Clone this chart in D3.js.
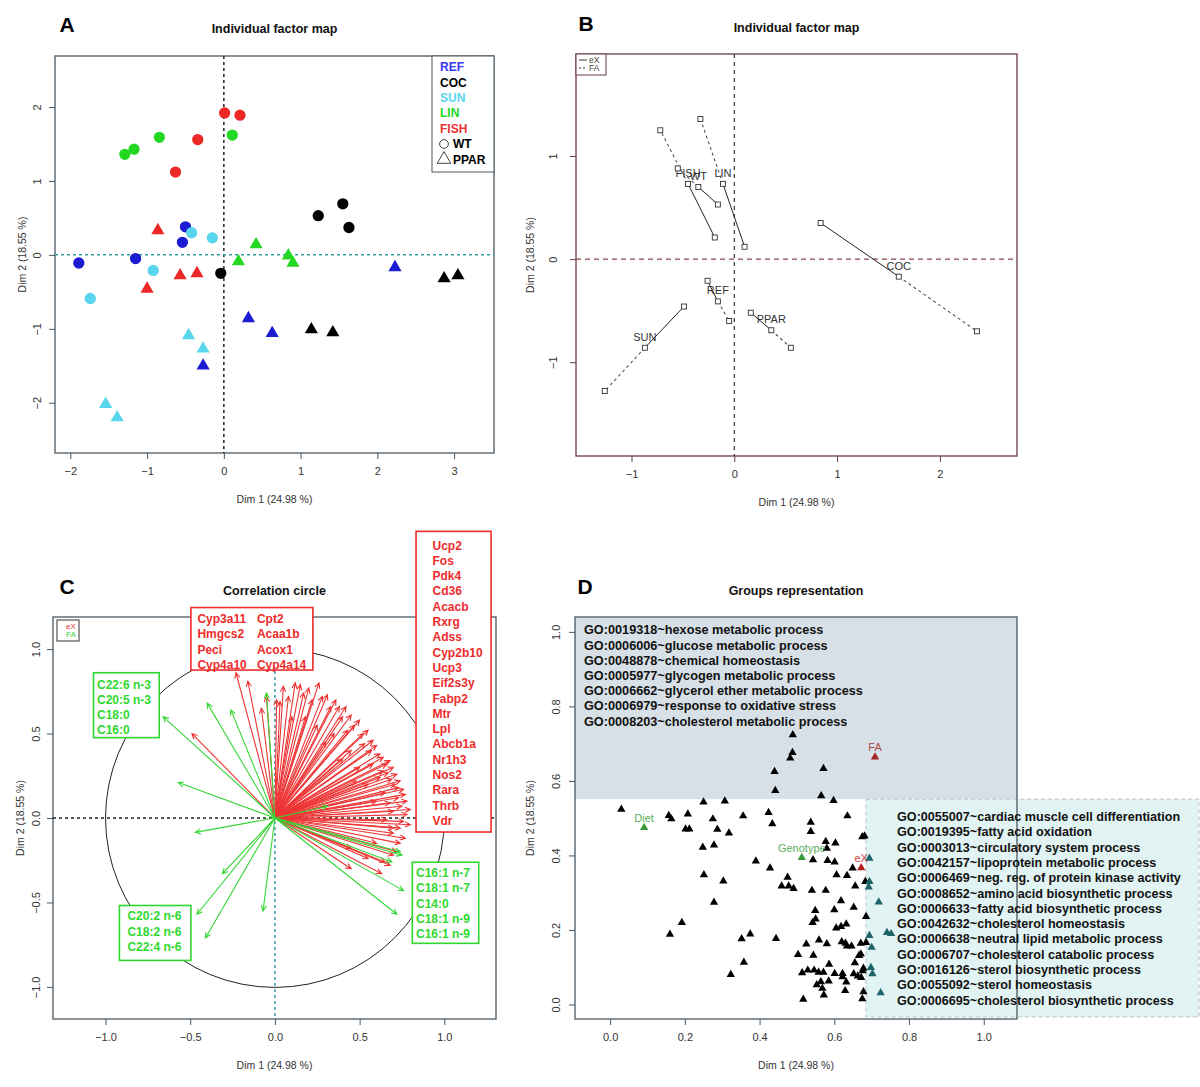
<!DOCTYPE html>
<html>
<head>
<meta charset="utf-8">
<script src="https://cdn.jsdelivr.net/npm/d3@7"></script>
<style>
body { margin: 0; background: #fff; }
text { font-family: "Liberation Sans", Arial, sans-serif; }
</style>
</head>
<body>
<svg id="fig" width="1200" height="1087"></svg>
<script>
// ---------- data: panel A (individual factor map)
var dietNames = ["REF", "COC", "SUN", "LIN", "FISH"];
var genoNames = ["WT", "PPAR"];
// diet, genotype, dim1, dim2
var indivA = [
  ["LIN","WT",-1.29,1.36], ["LIN","WT",-1.17,1.43], ["LIN","WT",-0.84,1.59], ["LIN","WT",0.11,1.62],
  ["FISH","WT",0.01,1.92], ["FISH","WT",0.21,1.89], ["FISH","WT",-0.34,1.56], ["FISH","WT",-0.63,1.12],
  ["COC","WT",1.23,0.53], ["COC","WT",1.55,0.69], ["COC","WT",1.63,0.37], ["COC","WT",-0.04,-0.25],
  ["REF","WT",-0.50,0.38], ["REF","WT",-0.54,0.17], ["REF","WT",-1.89,-0.11], ["REF","WT",-1.15,-0.05],
  ["SUN","WT",-0.42,0.30], ["SUN","WT",-0.15,0.23], ["SUN","WT",-0.92,-0.21], ["SUN","WT",-1.74,-0.59],
  ["FISH","PPAR",-0.86,0.33], ["FISH","PPAR",-0.57,-0.28], ["FISH","PPAR",-0.35,-0.25], ["FISH","PPAR",-1.00,-0.46],
  ["LIN","PPAR",0.42,0.14], ["LIN","PPAR",0.19,-0.09], ["LIN","PPAR",0.84,-0.01], ["LIN","PPAR",0.90,-0.11],
  ["REF","PPAR",2.23,-0.17], ["REF","PPAR",0.32,-0.86], ["REF","PPAR",0.63,-1.06], ["REF","PPAR",-0.27,-1.50],
  ["COC","PPAR",2.87,-0.32], ["COC","PPAR",3.05,-0.28], ["COC","PPAR",1.14,-1.01], ["COC","PPAR",1.42,-1.05],
  ["SUN","PPAR",-0.46,-1.09], ["SUN","PPAR",-0.27,-1.27], ["SUN","PPAR",-1.54,-2.02], ["SUN","PPAR",-1.39,-2.20]
];

// ---------- data: panel B (partial points)
var partialNames = ["REF","COC","SUN","LIN","FISH","WT","PPAR"];
var partialMean = [[-0.16,-0.41],[1.60,-0.17],[-0.87,-0.86],[-0.11,0.73],[-0.45,0.73],[-0.35,0.70],[0.36,-0.69]];
var partialEX   = [[-0.26,-0.21],[0.84,0.35],[-0.49,-0.46],[0.10,0.12],[-0.19,0.21],[-0.16,0.53],[0.16,-0.52]];
var partialFA   = [[-0.05,-0.60],[2.36,-0.70],[-1.26,-1.28],[-0.33,1.36],[-0.72,1.25],[-0.55,0.88],[0.55,-0.86]];

// ---------- data: panel C (correlation circle)
var eXVars = [
  [-0.23,0.86],[-0.16,0.81],[-0.49,0.50],[-0.05,0.72],[-0.08,0.65],
  [0.01,0.70],[0.03,0.69],[0.05,0.78],[0.08,0.72],[0.12,0.80],[0.15,0.79],[0.17,0.74],[0.20,0.77],
  [0.22,0.70],[0.26,0.80],[0.28,0.72],[0.31,0.73],[0.33,0.66],[0.36,0.70],[0.38,0.66],[0.40,0.60],
  [0.42,0.66],[0.45,0.61],[0.47,0.55],[0.50,0.58],[0.52,0.50],[0.55,0.52],[0.58,0.46],[0.57,0.40],
  [0.60,0.43],[0.62,0.38],[0.64,0.36],[0.66,0.32],[0.68,0.34],[0.70,0.30],[0.67,0.27],[0.72,0.26],
  [0.74,0.22],[0.71,0.20],[0.76,0.17],[0.77,0.14],[0.73,0.12],[0.78,0.10],[0.75,0.07],[0.80,0.05],
  [0.70,0.04],[0.78,0.02],[0.76,-0.02],[0.66,-0.01],[0.80,-0.04],[0.74,-0.06],[0.70,-0.09],[0.77,-0.12],
  [0.60,-0.15],[0.70,-0.22],[0.65,-0.26],[0.55,-0.24],[0.72,-0.20],[0.45,-0.18],[0.50,0.30],[0.45,0.40],
  [0.40,0.35],[0.55,0.20],[0.60,0.10],[0.35,0.50],[0.30,0.45],[0.62,0.24],[0.48,0.22],[0.65,0.15],
  [0.25,0.55],[0.18,0.60],[0.10,0.60],[0.74,-0.15],[0.68,-0.28],[0.63,-0.33],[0.45,-0.30],[0.70,-0.06],
  [0.68,0.09],[0.73,0.18],[0.53,0.44],[0.43,0.52],[0.64,0.28],[0.69,0.23],[0.58,0.32]
];
var faVars = [
  [-0.66,0.60],[-0.40,0.68],[-0.26,0.64],[-0.05,0.74],[-0.57,0.21],[0.31,0.07],
  [-0.47,-0.085],[-0.31,-0.33],[-0.46,-0.57],[-0.41,-0.71],[-0.07,-0.55],
  [0.75,-0.22],[0.74,-0.20],[0.69,-0.26],[0.76,-0.43],[0.72,-0.57]
];
var eXTopLeft  = ["Cyp3a11","Hmgcs2","Peci","Cyp4a10"];
var eXTopRight = ["Cpt2","Acaa1b","Acox1","Cyp4a14"];
var eXRight = ["Ucp2","Fos","Pdk4","Cd36","Acacb","Rxrg","Adss","Cyp2b10","Ucp3","Eif2s3y",
               "Fabp2","Mtr","Lpl","Abcb1a","Nr1h3","Nos2","Rara","Thrb","Vdr"];
var faTopLeft = ["C22:6 n-3","C20:5 n-3","C18:0","C16:0"];
var faBottomLeft = ["C20:2 n-6","C18:2 n-6","C22:4 n-6"];
var faRight = ["C16:1 n-7","C18:1 n-7","C14:0","C18:1 n-9","C16:1 n-9"];

// ---------- data: panel D (groups representation)
var goGroups = [
  [0.489,0.724],[0.488,0.676],[0.482,0.661],[0.440,0.625],[0.571,0.633],
  [0.442,0.574],[0.565,0.560],[0.598,0.547],[0.030,0.524],[0.250,0.543],[0.307,0.546],
  [0.157,0.507],[0.164,0.498],[0.208,0.511],[0.356,0.506],[0.424,0.515],[0.275,0.498],[0.434,0.485],
  [0.635,0.506],[0.537,0.489],[0.202,0.471],[0.212,0.471],[0.287,0.470],[0.318,0.460],[0.537,0.464],
  [0.675,0.450],[0.681,0.452],[0.248,0.422],[0.278,0.428],[0.577,0.437],[0.603,0.433],[0.580,0.419],
  [0.390,0.385],[0.543,0.388],[0.582,0.386],[0.601,0.382],[0.428,0.366],[0.649,0.366],[0.694,0.392],
  [0.251,0.348],[0.475,0.341],[0.606,0.348],[0.634,0.346],[0.303,0.331],[0.459,0.318],[0.478,0.318],
  [0.491,0.311],[0.540,0.306],[0.577,0.306],[0.656,0.318],[0.683,0.330],[0.694,0.330],[0.692,0.315],
  [0.618,0.278],[0.278,0.274],[0.719,0.275],[0.652,0.261],[0.549,0.252],[0.600,0.254],[0.685,0.236],
  [0.192,0.220],[0.542,0.220],[0.550,0.229],[0.605,0.205],[0.618,0.209],[0.632,0.216],[0.160,0.188],
  [0.352,0.176],[0.375,0.189],[0.444,0.177],[0.525,0.162],[0.559,0.173],[0.580,0.163],[0.620,0.168],
  [0.630,0.164],[0.634,0.157],[0.646,0.157],[0.671,0.164],[0.685,0.166],[0.694,0.185],[0.741,0.193],
  [0.752,0.190],[0.700,0.153],[0.503,0.134],[0.544,0.132],[0.666,0.131],[0.671,0.135],[0.358,0.113],
  [0.655,0.112],[0.586,0.108],[0.323,0.080],[0.514,0.085],[0.529,0.092],[0.546,0.092],[0.558,0.086],
  [0.571,0.086],[0.601,0.083],[0.622,0.083],[0.622,0.074],[0.652,0.082],[0.663,0.076],[0.672,0.072],
  [0.676,0.090],[0.678,0.097],[0.698,0.099],[0.702,0.082],[0.564,0.061],[0.553,0.053],[0.585,0.063],
  [0.632,0.060],[0.568,0.043],[0.629,0.037],[0.572,0.025],[0.678,0.034],[0.517,0.014],[0.675,0.015],
  [0.724,0.031]
];
var suppNames = ["Diet","Genotype","eX","FA"];
var suppPos = [[0.091,0.475],[0.513,0.394],[0.672,0.367],[0.709,0.664]];
var clusterTopGO = [
  "GO:0019318~hexose metabolic process","GO:0006006~glucose metabolic process",
  "GO:0048878~chemical homeostasis","GO:0005977~glycogen metabolic process",
  "GO:0006662~glycerol ether metabolic process","GO:0006979~response to oxidative stress",
  "GO:0008203~cholesterol metabolic process"
];
var clusterRightGO = [
  "GO:0055007~cardiac muscle cell differentiation","GO:0019395~fatty acid oxidation",
  "GO:0003013~circulatory system process","GO:0042157~lipoprotein metabolic process",
  "GO:0006469~neg. reg. of protein kinase activity","GO:0008652~amino acid biosynthetic process",
  "GO:0006633~fatty acid biosynthetic process","GO:0042632~cholesterol homeostasis",
  "GO:0006638~neutral lipid metabolic process","GO:0006707~cholesterol catabolic process",
  "GO:0016126~sterol biosynthetic process","GO:0055092~sterol homeostasis",
  "GO:0006695~cholesterol biosynthetic process"
];
var topClusterMinY = 0.551;   // grey cluster: dim2 above this
var rightClusterMinX = 0.685; // cyan cluster: dim1 right of this

// ---------- drawing helpers
var svg = d3.select("#fig");
var minus = function(s) { return String(s).replace("-", "\u2212"); };

var makePanel = function(o) {
  var g = svg.append("g");
  var x = d3.scaleLinear().domain(o.xDom).range([o.left, o.right]);
  var y = d3.scaleLinear().domain(o.yDom).range([o.bottom, o.top]);
  return {g: g, x: x, y: y, o: o};
};

var drawFrame = function(p) {
  var o = p.o;
  var xa = p.g.append("g").attr("transform", "translate(0," + o.bottom + ")")
    .call(d3.axisBottom(p.x).tickValues(o.xTicks).tickFormat(o.fmt).tickSize(6).tickPadding(8));
  var ya = p.g.append("g").attr("transform", "translate(" + o.left + ",0)")
    .call(d3.axisLeft(p.y).tickValues(o.yTicks).tickFormat(o.fmt).tickSize(6));
  ya.selectAll(".tick text").attr("x", 0).attr("dy", null)
    .attr("text-anchor", "middle").attr("transform", "translate(" + (-o.yTickOff) + ",0) rotate(-90)");
  [xa, ya].forEach(function(a) {
    a.select(".domain").remove();
    a.selectAll("line").attr("stroke", o.boxColor);
    a.selectAll("text").attr("font-size", 11).attr("fill", "#333")
      .style("font-family", '"Liberation Sans", Arial, sans-serif');
  });
  p.g.append("rect").attr("x", o.left).attr("y", o.top)
    .attr("width", o.right - o.left).attr("height", o.bottom - o.top)
    .attr("fill", "none").attr("stroke", o.boxColor).attr("stroke-width", 1.3);
  var cx = (o.left + o.right) / 2, cy = (o.top + o.bottom) / 2;
  p.g.append("text").attr("x", cx).attr("y", o.bottom + 50).attr("text-anchor", "middle")
    .attr("font-size", 10.5).attr("fill", "#333").text("Dim 1 (24.98 %)");
  p.g.append("text").attr("transform", "translate(" + (o.left - o.yLabOff) + "," + cy + ") rotate(-90)")
    .attr("text-anchor", "middle").attr("font-size", 10.5).attr("fill", "#333").text("Dim 2 (18.55 %)");
  svg.append("text").attr("x", cx).attr("y", o.titleY).attr("text-anchor", "middle")
    .attr("font-size", 12.5).attr("font-weight", "bold").attr("fill", "#111").text(o.title);
  svg.append("text").attr("x", o.letterX).attr("y", o.titleY - 1).attr("text-anchor", "middle")
    .attr("font-size", 21).attr("font-weight", "bold").attr("fill", "#000").text(o.letter);
};

var dashed = function(p, vertColor, horColor, dash) {
  p.g.append("line").attr("x1", p.x(0)).attr("x2", p.x(0)).attr("y1", p.o.top).attr("y2", p.o.bottom)
    .attr("stroke", vertColor).attr("stroke-width", 1.5).attr("stroke-dasharray", dash);
  p.g.append("line").attr("x1", p.o.left).attr("x2", p.o.right).attr("y1", p.y(0)).attr("y2", p.y(0))
    .attr("stroke", horColor).attr("stroke-width", 1.5).attr("stroke-dasharray", dash);
};

// ---------- panel A
var dietColor = d3.scaleOrdinal().domain(dietNames)
  .range(["#1b1bd2", "#000000", "#5ad5ee", "#23d823", "#ee2727"]);
var dietText = d3.scaleOrdinal().domain(dietNames)
  .range(["#3535f5", "#000000", "#5ad5ee", "#23d823", "#ee3333"]);
var pA = makePanel({left: 55, right: 494, top: 56, bottom: 453, xDom: [-2.2, 3.52], yDom: [-2.68, 2.69],
  xTicks: [-2, -1, 0, 1, 2, 3], yTicks: [-2, -1, 0, 1, 2], fmt: minus, boxColor: "#4a5862",
  yTickOff: 14, yLabOff: 29,
  title: "Individual factor map", titleY: 33, letter: "A", letterX: 67});
drawFrame(pA);
dashed(pA, "#222", "#2f9c9c", "3,3");
var triA = d3.symbol().type(d3.symbolTriangle).size(75);
pA.g.selectAll(".ind").data(indivA).enter().append("path").attr("class", "ind")
  .attr("d", function(d) { return d[1] == "WT" ? d3.symbol().type(d3.symbolCircle).size(100)() : triA(); })
  .attr("transform", function(d) { return "translate(" + pA.x(d[2]) + "," + pA.y(d[3]) + ")"; })
  .attr("fill", function(d) { return dietColor(d[0]); });
// legend
var legA = pA.g.append("g").attr("transform", "translate(" + (pA.o.right - 62) + "," + pA.o.top + ")");
legA.append("rect").attr("width", 62).attr("height", 116).attr("fill", "#fff").attr("stroke", "#4a5862");
legA.selectAll(".dl").data(dietNames).enter().append("text")
  .attr("x", 8).attr("y", function(d, i) { return 11 + i * 15.4; }).attr("dy", "0.35em")
  .attr("font-size", 12).attr("font-weight", "bold").attr("fill", function(d) { return dietText(d); })
  .text(function(d) { return d; });
legA.selectAll(".gl").data(genoNames).enter().append("text")
  .attr("x", 21).attr("y", function(d, i) { return 11 + (i + 5) * 15.4; }).attr("dy", "0.35em")
  .attr("font-size", 12).attr("font-weight", "bold").attr("fill", "#000").text(function(d) { return d; });
legA.selectAll(".gs").data(genoNames).enter().append("path")
  .attr("d", function(d) { return d == "WT" ? d3.symbol().type(d3.symbolCircle).size(60)() : d3.symbol().type(d3.symbolTriangle).size(80)(); })
  .attr("transform", function(d, i) { return "translate(12," + (11 + (i + 5) * 15.4) + ")"; })
  .attr("fill", "none").attr("stroke", "#444").attr("stroke-width", 1);

// ---------- panel B
var pB = makePanel({left: 576, right: 1017, top: 54, bottom: 456, xDom: [-1.54, 2.75], yDom: [-1.91, 1.99],
  xTicks: [-1, 0, 1, 2], yTicks: [-1, 0, 1], fmt: minus, boxColor: "#6a3c40",
  yTickOff: 19, yLabOff: 42,
  title: "Individual factor map", titleY: 32, letter: "B", letterX: 586});
drawFrame(pB);
pB.g.append("line").attr("x1", pB.x(0)).attr("x2", pB.x(0)).attr("y1", pB.o.top).attr("y2", pB.o.bottom)
  .attr("stroke", "#333").attr("stroke-width", 1.2).attr("stroke-dasharray", "4,4");
pB.g.append("line").attr("x1", pB.o.left).attr("x2", pB.o.right).attr("y1", pB.y(0)).attr("y2", pB.y(0))
  .attr("stroke", "#8a4848").attr("stroke-width", 1.2).attr("stroke-dasharray", "5,4");
partialNames.forEach(function(name, i) {
  var m = partialMean[i], e = partialEX[i], f = partialFA[i];
  pB.g.append("line").attr("x1", pB.x(m[0])).attr("y1", pB.y(m[1])).attr("x2", pB.x(e[0])).attr("y2", pB.y(e[1]))
    .attr("stroke", "#222").attr("stroke-width", 1);
  pB.g.append("line").attr("x1", pB.x(m[0])).attr("y1", pB.y(m[1])).attr("x2", pB.x(f[0])).attr("y2", pB.y(f[1]))
    .attr("stroke", "#555").attr("stroke-width", 1.1).attr("stroke-dasharray", "3,3");
  [m, e, f].forEach(function(pt) {
    pB.g.append("rect").attr("x", pB.x(pt[0]) - 2.5).attr("y", pB.y(pt[1]) - 2.5)
      .attr("width", 5).attr("height", 5).attr("fill", "#fff").attr("stroke", "#333").attr("stroke-width", 0.9);
  });
  pB.g.append("text").attr("x", pB.x(m[0])).attr("y", pB.y(m[1]) - 7).attr("text-anchor", "middle")
    .attr("font-size", 11).attr("fill", "#333").text(name);
});
var legB = pB.g.append("g").attr("transform", "translate(" + pB.o.left + "," + pB.o.top + ")");
legB.append("rect").attr("width", 30).attr("height", 21).attr("fill", "#fff").attr("stroke", "#6a3c40");
legB.append("line").attr("x1", 3).attr("x2", 11).attr("y1", 6).attr("y2", 6).attr("stroke", "#333");
legB.append("line").attr("x1", 3).attr("x2", 11).attr("y1", 14).attr("y2", 14).attr("stroke", "#333").attr("stroke-dasharray", "2,2");
legB.append("text").attr("x", 13).attr("y", 6).attr("dy", "0.35em").attr("font-size", 8.5).attr("fill", "#444").text("eX");
legB.append("text").attr("x", 13).attr("y", 14).attr("dy", "0.35em").attr("font-size", 8.5).attr("fill", "#444").text("FA");

// ---------- panel C
var pC = makePanel({left: 53, right: 496, top: 617, bottom: 1019, xDom: [-1.31, 1.305], yDom: [-1.19, 1.19],
  xTicks: [-1, -0.5, 0, 0.5, 1], yTicks: [-1, -0.5, 0, 0.5, 1],
  fmt: function(d) { return minus(d3.format(".1f")(d)); }, boxColor: "#4a5862",
  yTickOff: 13, yLabOff: 29,
  title: "Correlation circle", titleY: 595, letter: "C", letterX: 67});
drawFrame(pC);
pC.g.append("circle").attr("cx", pC.x(0)).attr("cy", pC.y(0)).attr("r", pC.x(1) - pC.x(0))
  .attr("fill", "none").attr("stroke", "#222").attr("stroke-width", 1);
dashed(pC, "#3a9fb0", "#222", "3,3");
var arrowPath = function(x1, y1) {
  var x0 = pC.x(0), y0 = pC.y(0), a = Math.atan2(y1 - y0, x1 - x0), L = 6;
  var a1 = a + Math.PI - 0.45, a2 = a + Math.PI + 0.45;
  return "M" + x0 + "," + y0 + "L" + x1 + "," + y1 +
    "M" + (x1 + L * Math.cos(a1)) + "," + (y1 + L * Math.sin(a1)) + "L" + x1 + "," + y1 +
    "L" + (x1 + L * Math.cos(a2)) + "," + (y1 + L * Math.sin(a2));
};
pC.g.selectAll(".ex").data(eXVars).enter().append("path").attr("class", "ex")
  .attr("d", function(d) { return arrowPath(pC.x(d[0]), pC.y(d[1])); })
  .attr("fill", "none").attr("stroke", "#ee3535").attr("stroke-width", 1.1);
pC.g.selectAll(".fa").data(faVars).enter().append("path").attr("class", "fa")
  .attr("d", function(d) { return arrowPath(pC.x(d[0]), pC.y(d[1])); })
  .attr("fill", "none").attr("stroke", "#36d636").attr("stroke-width", 1.1);
// label boxes, placed in circle coordinates
var labelBox = function(cols, x0, x1, y0, y1, color, padX, padY, colGap) {
  var bx = pC.x(x0), by = pC.y(y0);
  pC.g.append("rect").attr("x", bx).attr("y", by).attr("width", pC.x(x1) - bx).attr("height", pC.y(y1) - by)
    .attr("fill", "#fff").attr("stroke", color).attr("stroke-width", 1.6);
  cols.forEach(function(list, c) {
    pC.g.selectAll(null).data(list).enter().append("text")
      .attr("x", bx + padX + c * colGap).attr("y", function(d, i) { return by + padY + i * 15.3; })
      .attr("dy", "0.35em").attr("font-size", 12).attr("font-weight", "bold").attr("fill", color)
      .text(function(d) { return d; });
  });
};
labelBox([eXTopLeft, eXTopRight], -0.496, 0.224, 1.246, 0.876, "#ee2b2b", 6.5, 11.4, 59.5);
labelBox([eXRight], 0.833, 1.276, 1.697, -0.083, "#ee2b2b", 16.5, 14, 0);
labelBox([faTopLeft], -1.071, -0.683, 0.860, 0.476, "#2fd82f", 3.5, 11.6, 0);
labelBox([faBottomLeft], -0.918, -0.496, -0.518, -0.843, "#2fd82f", 8, 10.7, 0);
labelBox([faRight], 0.811, 1.203, -0.262, -0.742, "#2fd82f", 3.7, 10.6, 0);
var legC = pC.g.append("g").attr("transform", "translate(" + (pC.o.left + 4) + "," + (pC.o.top + 3) + ")");
legC.append("rect").attr("width", 22).attr("height", 21).attr("fill", "#fff").attr("stroke", "#333");
legC.append("text").attr("x", 9).attr("y", 6).attr("dy", "0.35em").attr("font-size", 8).attr("fill", "#ee3535").text("eX");
legC.append("text").attr("x", 9).attr("y", 14.5).attr("dy", "0.35em").attr("font-size", 8).attr("fill", "#36d636").text("FA");

// ---------- panel D
var pD = makePanel({left: 575, right: 1017, top: 617, bottom: 1019, xDom: [-0.094, 1.089], yDom: [-0.039, 1.04],
  xTicks: [0, 0.2, 0.4, 0.6, 0.8, 1.0], yTicks: [0, 0.2, 0.4, 0.6, 0.8, 1.0],
  fmt: d3.format(".1f"), boxColor: "#4a5862",
  yTickOff: 15, yLabOff: 41,
  title: "Groups representation", titleY: 595, letter: "D", letterX: 585});
var yTop = pD.y(topClusterMinY);
pD.g.append("rect").attr("x", pD.o.left).attr("y", pD.o.top).attr("width", pD.o.right - pD.o.left)
  .attr("height", yTop - pD.o.top).attr("fill", "#d8e0e7");
var xCy = pD.x(rightClusterMinX);
pD.g.append("rect").attr("x", xCy).attr("y", yTop).attr("width", 1199 - xCy).attr("height", pD.o.bottom - 2 - yTop)
  .attr("fill", "#e2f3f4").attr("stroke", "#b8c2c6").attr("stroke-dasharray", "4,3");
drawFrame(pD);
var triD = d3.symbol().type(d3.symbolTriangle).size(30);
pD.g.selectAll(".go").data(goGroups).enter().append("path").attr("class", "go")
  .attr("d", triD)
  .attr("transform", function(d) { return "translate(" + pD.x(d[0]) + "," + pD.y(d[1]) + ")"; })
  .attr("fill", function(d) { return (d[0] > rightClusterMinX && d[1] < topClusterMinY) ? "#1d6469" : "#000"; });
var suppColor = d3.scaleOrdinal().domain(suppNames).range(["#3a9a3a", "#3a9a3a", "#b02020", "#a02525"]);
var suppText = d3.scaleOrdinal().domain(suppNames).range(["#5aae5a", "#5aae5a", "#c04040", "#b04848"]);
pD.g.selectAll(".supp").data(suppNames).enter().append("path").attr("d", triD)
  .attr("transform", function(d, i) { return "translate(" + pD.x(suppPos[i][0]) + "," + pD.y(suppPos[i][1]) + ")"; })
  .attr("fill", function(d) { return suppColor(d); });
pD.g.selectAll(".suppl").data(suppNames).enter().append("text")
  .attr("x", function(d, i) { return pD.x(suppPos[i][0]); })
  .attr("y", function(d, i) { return pD.y(suppPos[i][1]) - 6; })
  .attr("text-anchor", "middle").attr("font-size", 11).attr("fill", function(d) { return suppText(d); })
  .text(function(d) { return d; });
pD.g.selectAll(".got").data(clusterTopGO).enter().append("text")
  .attr("x", pD.o.left + 9).attr("y", function(d, i) { return pD.o.top + 13 + i * 15.2; }).attr("dy", "0.35em")
  .attr("font-size", 12.7).attr("font-weight", "bold").attr("fill", "#111").text(function(d) { return d; });
pD.g.selectAll(".gor").data(clusterRightGO).enter().append("text")
  .attr("x", xCy + 31).attr("y", function(d, i) { return yTop + 17.5 + i * 15.3; }).attr("dy", "0.35em")
  .attr("font-size", 12.6).attr("font-weight", "bold").attr("fill", "#111").text(function(d) { return d; });
</script>
</body>
</html>
